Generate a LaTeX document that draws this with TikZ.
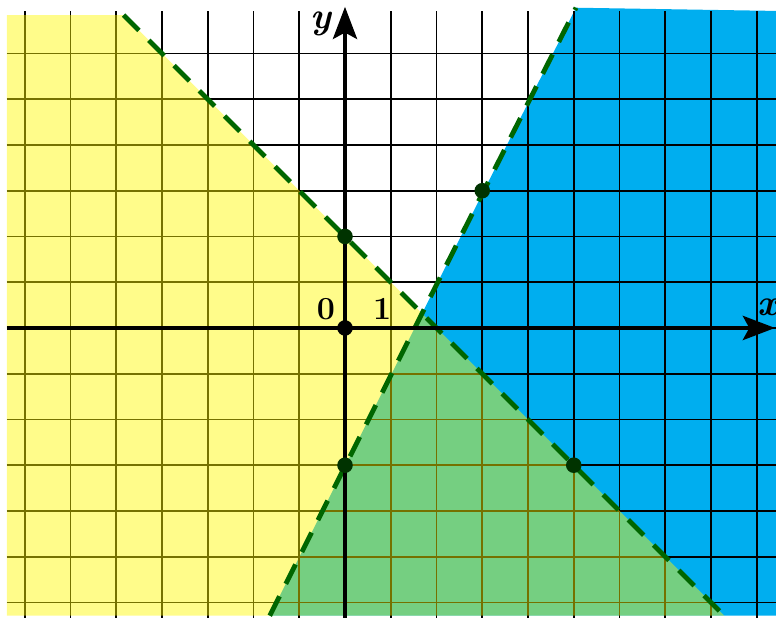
\documentclass[tikz,border=0pt]{standalone}
\usepackage{fontspec}
\usepackage{tikz}
\usetikzlibrary{arrows.meta}
\definecolor{skyblue}{RGB}{0,174,239}
\definecolor{lemon}{RGB}{255,248,0}
\definecolor{linegreen}{RGB}{0,102,0}
\definecolor{dotgreen}{RGB}{0,51,0}

\begin{document}
\begin{tikzpicture}[
			gridline/.style={black, line width=1.2pt},
			axis/.style={-{Stealth[length=20pt, width=15pt, inset=4pt]}, line width=2.5pt},
			border/.style={linegreen, line width=3pt, dash pattern=on 13.5pt off 8.7pt},
			dot/.style={circle, fill=dotgreen, inner sep=0pt, minimum size=0.34cm},
			numlabel/.style={font=\fontsize{20}{24}\selectfont\bfseries, inner sep=0pt},
			axislabel/.style={font=\fontsize{23}{27}\selectfont\bfseries\itshape, inner sep=0pt}
			]
			\useasboundingbox (-7.541,-6.339) rectangle (9.421,7.169);
			% Boundary lines
			\coordinate (ltop) at (-4.84,6.84);
			\coordinate (lbot) at (8.29,-6.29);
			\coordinate (rtop) at (5.05,7.0);
			\coordinate (rbot) at (-1.645,-6.29);
			
			% Regions
			\fill[skyblue] (rtop) -- (9.421,6.93) -- (9.421,-6.29) -- (rbot) -- cycle;
			\draw[gridline] (-7.39,-6.34) grid (9.421,6.93);
			\fill[lemon, opacity=0.46] (-7.39,6.84) -- (ltop) -- (lbot) -- (-7.39,-6.29) -- cycle;
			
			\draw[border] (ltop) -- (lbot);
			\draw[border] (rbot) -- (rtop);
			
			% Axes
			\coordinate (xstart) at (-7.39,0);
			\coordinate (xend) at (9.40,0);
			\coordinate (ystart) at (0,-6.34);
			\coordinate (yend) at (0,7.02);
			\draw[axis] (xstart) -- (xend);
			\draw[axis] (ystart) -- (yend);
			
			% Points
			\node (origin) [dot, fill=black] at (0,0) {};
			\node (pa) [dot] at (0,2) {};
			\node (pb) [dot] at (3,3) {};
			\node (pc) [dot] at (0,-3) {};
			\node (pd) [dot] at (5,-3) {};
			
			% Labels
			\node (zero) [numlabel] at (-0.415,0.415) {0};
			\node (one) [numlabel] at (0.81,0.415) {1};
			\node (ylabel) [axislabel] at (-0.53,6.64) {y};
			\node (xlabel) [axislabel] at (9.25,0.45) {x};
		\end{tikzpicture}
\end{document}
